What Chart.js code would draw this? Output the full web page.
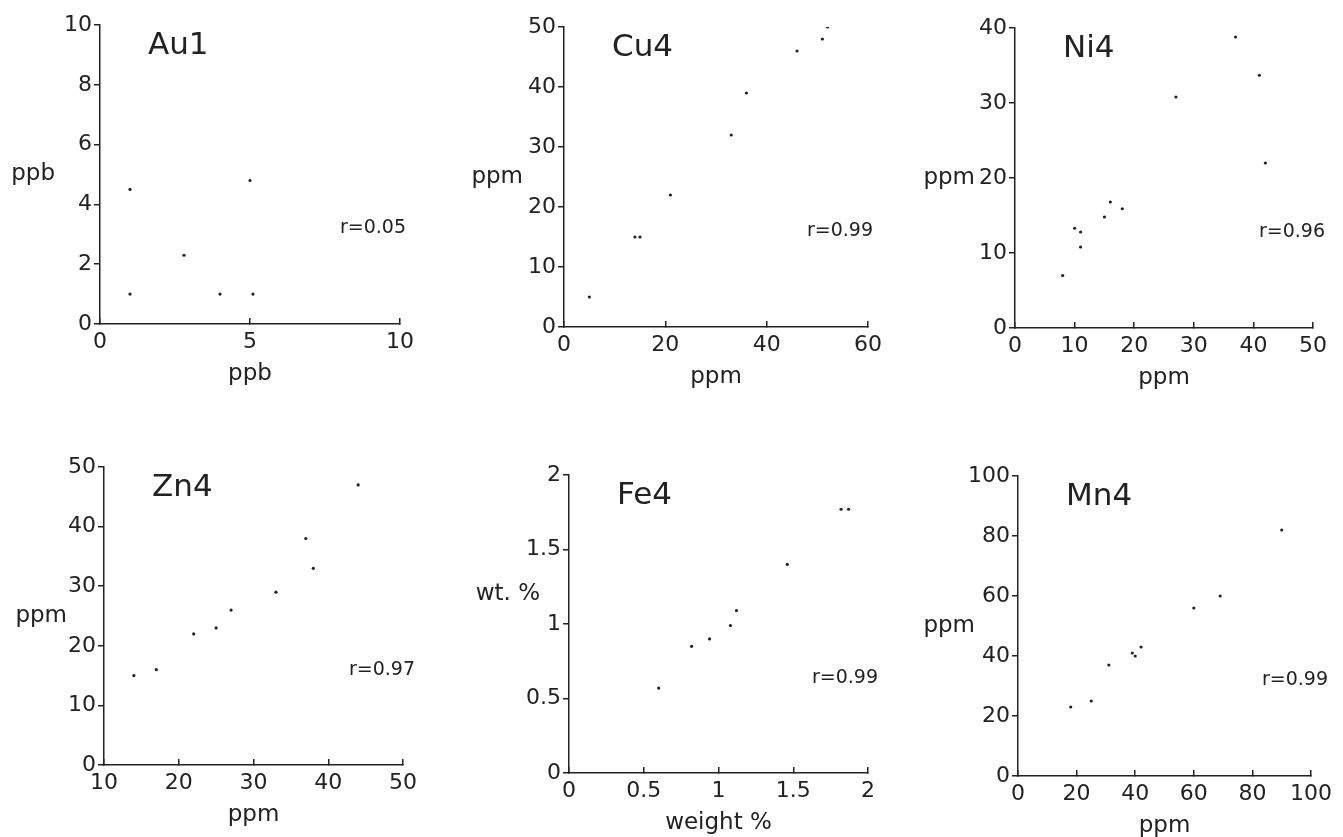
<!DOCTYPE html>
<html>
<head>
<meta charset="utf-8">
<style>
  html, body { margin: 0; padding: 0; background: #fff; overflow: hidden; width: 1343px; height: 837px; }
  canvas { position: absolute; }
</style>
</head>
<body>
<div id="wrap"></div>

<script src="https://cdn.jsdelivr.net/npm/chart.js"></script>
<script>
  // values
  const auX = [1, 1, 2.8, 4, 5, 5.1];
  const auY = [4.5, 1, 2.3, 1, 4.8, 1];
  const auXTicks = [0, 5, 10];
  const auYTicks = [0, 2, 4, 6, 8, 10];

  const cuX = [5, 14, 15, 21, 33, 36, 46, 51, 52];
  const cuY = [5, 15, 15, 22, 32, 39, 46, 48, 50];
  const cuXTicks = [0, 20, 40, 60];
  const cuYTicks = [0, 10, 20, 30, 40, 50];

  const niX = [8, 10, 11, 11, 15, 16, 18, 27, 37, 41, 42];
  const niY = [7, 13.3, 12.8, 10.8, 14.8, 16.8, 15.9, 30.8, 38.8, 33.7, 22];
  const niXTicks = [0, 10, 20, 30, 40, 50];
  const niYTicks = [0, 10, 20, 30, 40];

  const znX = [14, 17, 22, 25, 27, 33, 37, 38, 44];
  const znY = [15, 16, 22, 23, 26, 29, 38, 33, 47];
  const znXTicks = [10, 20, 30, 40, 50];
  const znYTicks = [0, 10, 20, 30, 40, 50];

  const feX = [0.6, 0.82, 0.94, 1.08, 1.12, 1.46, 1.82, 1.87];
  const feY = [0.57, 0.85, 0.9, 0.99, 1.09, 1.4, 1.77, 1.77];
  const feXTicks = [0, 0.5, 1, 1.5, 2];
  const feYTicks = [0, 0.5, 1, 1.5, 2];

  const mnX = [18, 25, 31, 39, 40, 42, 60, 69, 90];
  const mnY = [23, 25, 37, 41, 40, 43, 56, 60, 82];
  const mnXTicks = [0, 20, 40, 60, 80, 100];
  const mnYTicks = [0, 20, 40, 60, 80, 100];

  const panels = [
    { name: 'Au1', r: 'r=0.05', xs: auX, ys: auY, xTicks: auXTicks, yTicks: auYTicks, xTitle: 'ppb', yTitle: 'ppb' },
    { name: 'Cu4', r: 'r=0.99', xs: cuX, ys: cuY, xTicks: cuXTicks, yTicks: cuYTicks, xTitle: 'ppm', yTitle: 'ppm' },
    { name: 'Ni4', r: 'r=0.96', xs: niX, ys: niY, xTicks: niXTicks, yTicks: niYTicks, xTitle: 'ppm', yTitle: 'ppm' },
    { name: 'Zn4', r: 'r=0.97', xs: znX, ys: znY, xTicks: znXTicks, yTicks: znYTicks, xTitle: 'ppm', yTitle: 'ppm' },
    { name: 'Fe4', r: 'r=0.99', xs: feX, ys: feY, xTicks: feXTicks, yTicks: feYTicks, xTitle: 'weight %', yTitle: 'wt. %' },
    { name: 'Mn4', r: 'r=0.99', xs: mnX, ys: mnY, xTicks: mnXTicks, yTicks: mnYTicks, xTitle: 'ppm', yTitle: 'ppm' }
  ];

  // plot boxes on the page, and where the loose texts sit
  const boxes = [
    { l: 100, t: 25, w: 300, h: 299, yGap: 45, yFrac: 0.5, rOff: 6 },
    { l: 564, t: 27, w: 304, h: 300, yGap: 41, yFrac: 0.5, rOff: 5 },
    { l: 1015, t: 28, w: 298, h: 300, yGap: 40, yFrac: 0.5, rOff: 12 },
    { l: 104, t: 467, w: 299, h: 298, yGap: 37, yFrac: 0.5, rOff: 12 },
    { l: 569, t: 475, w: 299, h: 298, yGap: 29, yFrac: 0.6, rOff: 10 },
    { l: 1018, t: 476, w: 300, h: 300, yGap: 43, yFrac: 0.5, rOff: 17 }
  ];

  const INK = '#222';
  const FONT = 'DejaVu Sans';
  const AXIS_W = 110, PAD_TOP = 30, PAD_RIGHT = 25, XAXIS_H = 65;
  const X_TITLE_OFF = 50;

  const textPlugin = {
    id: 'panelText',
    afterDraw(chart) {
      const p = chart.options.plugins.panelText;
      const a = chart.chartArea;
      const ctx = chart.ctx;
      ctx.save();
      ctx.fillStyle = INK;
      ctx.textBaseline = 'middle';

      ctx.font = '31px "' + FONT + '"';
      ctx.textAlign = 'left';
      ctx.fillText(p.name, a.left + 48, a.top + 21);

      ctx.font = '19px "' + FONT + '"';
      ctx.textAlign = 'right';
      ctx.fillText(p.r, a.right + p.rOff, a.bottom - (a.bottom - a.top) * 0.32);

      ctx.font = '23px "' + FONT + '"';
      ctx.textAlign = 'right';
      ctx.fillText(p.yTitle, a.left - p.yGap, a.bottom - (a.bottom - a.top) * p.yFrac);

      ctx.textAlign = 'center';
      ctx.fillText(p.xTitle, (a.left + a.right) / 2, a.bottom + X_TITLE_OFF);
      ctx.restore();
    }
  };

  const wrap = document.getElementById('wrap');

  panels.forEach((p, i) => {
    const b = boxes[i];
    const cv = document.createElement('canvas');
    cv.width = b.w + AXIS_W + PAD_RIGHT;
    cv.height = b.h + PAD_TOP + XAXIS_H;
    cv.style.left = (b.l - AXIS_W) + 'px';
    cv.style.top = (b.t - PAD_TOP) + 'px';
    wrap.appendChild(cv);

    const pts = p.xs.map((x, k) => ({ x: x, y: p.ys[k] }));
    const xt = p.xTicks, yt = p.yTicks;

    new Chart(cv.getContext('2d'), {
      type: 'scatter',
      data: {
        datasets: [{
          data: pts,
          pointRadius: 1.6,
          pointBackgroundColor: INK,
          pointBorderWidth: 0
        }]
      },
      options: {
        responsive: false,
        animation: false,
        events: [],
        layout: { padding: { top: PAD_TOP, right: PAD_RIGHT, left: 0, bottom: 0 } },
        plugins: {
          legend: { display: false },
          tooltip: { enabled: false },
          panelText: { name: p.name, r: p.r, xTitle: p.xTitle, yTitle: p.yTitle,
                       yGap: b.yGap, yFrac: b.yFrac, rOff: b.rOff }
        },
        scales: {
          x: {
            type: 'linear',
            min: xt[0],
            max: xt[xt.length - 1],
            afterBuildTicks: s => { s.ticks = xt.map(v => ({ value: v })); },
            afterFit: s => { s.height = XAXIS_H; },
            border: { color: INK, width: 1.5 },
            grid: { drawOnChartArea: false, tickLength: -6, color: INK, lineWidth: 1.5 },
            ticks: {
              padding: 11,
              color: INK,
              font: { family: FONT, size: 22 },
              maxRotation: 0,
              autoSkip: false,
              callback: v => String(v)
            }
          },
          y: {
            type: 'linear',
            min: yt[0],
            max: yt[yt.length - 1],
            afterBuildTicks: s => { s.ticks = yt.map(v => ({ value: v })); },
            afterFit: s => { s.width = AXIS_W; },
            border: { color: INK, width: 1.5 },
            grid: { drawOnChartArea: false, tickLength: 6, color: INK, lineWidth: 1.5 },
            ticks: {
              padding: 2,
              color: INK,
              font: { family: FONT, size: 22 },
              autoSkip: false,
              callback: v => String(v)
            }
          }
        }
      },
      plugins: [textPlugin]
    });
  });
</script>
</body>
</html>
